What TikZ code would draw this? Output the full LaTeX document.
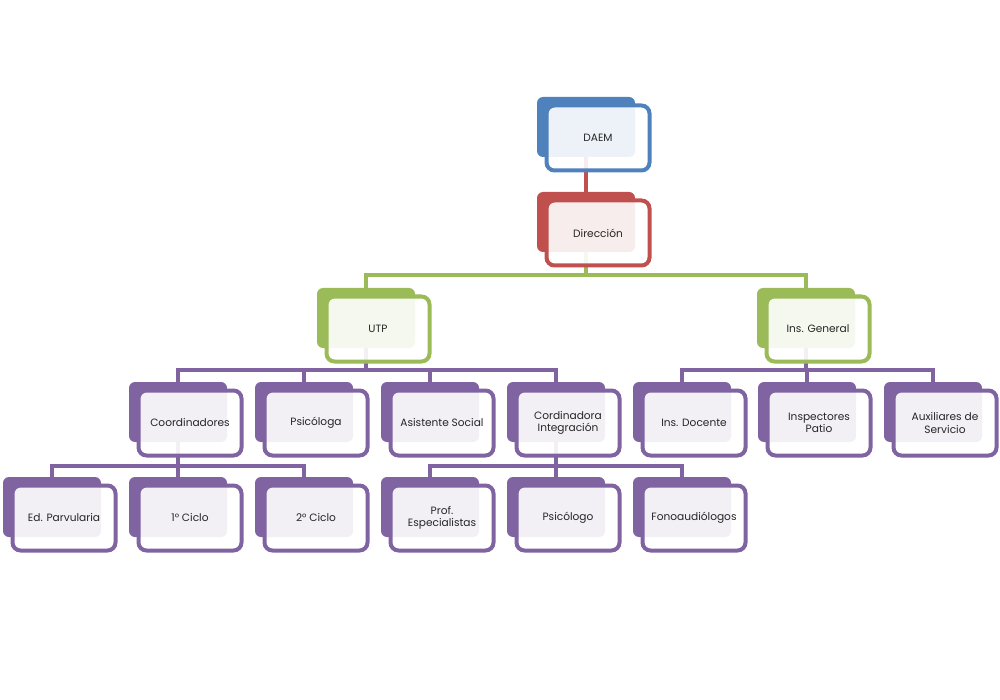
\documentclass[tikz,border=0pt]{standalone}
\usepackage{fontspec}
\setmainfont{Poppins}
\usepackage{tikz}
\usetikzlibrary{backgrounds}

\definecolor{daemblue}{HTML}{4F81BD}
\definecolor{dirred}{HTML}{C0504D}
\definecolor{mandogreen}{HTML}{9BBB59}
\definecolor{staffpurple}{HTML}{8064A2}

\begin{document}
\begin{tikzpicture}[x=1pt,y=-1pt]
		\tikzstyle{back}=[rectangle, rounded corners=6pt, minimum width=98pt, minimum height=60pt, inner sep=0pt]
		\tikzstyle{front}=[rectangle, rounded corners=8pt, line width=4pt, fill=white, fill opacity=0.9, text opacity=1, minimum width=103pt, minimum height=65pt, inner sep=1pt, align=center, text=black!85, font=\fontsize{10.6}{12.5}\selectfont]
		\tikzstyle{conn}=[line width=4.5pt]

		\useasboundingbox (0,0) rectangle (1000,700);

		% back shapes
		\node [back, fill=daemblue] (daem) at (586,127) {};
		\node [back, fill=dirred] (dir) at (586,222) {};
		\node [back, fill=mandogreen] (utp) at (366,318) {};
		\node [back, fill=mandogreen] (insg) at (806,318) {};
		\node [back, fill=staffpurple] (coord) at (178,412) {};
		\node [back, fill=staffpurple] (psica) at (304,412) {};
		\node [back, fill=staffpurple] (asist) at (430,412) {};
		\node [back, fill=staffpurple] (integ) at (556,412) {};
		\node [back, fill=staffpurple] (insdoc) at (682,412) {};
		\node [back, fill=staffpurple] (inspat) at (807,412) {};
		\node [back, fill=staffpurple] (aux) at (933,412) {};
		\node [back, fill=staffpurple] (parv) at (52,507) {};
		\node [back, fill=staffpurple] (ciclo1) at (178,507) {};
		\node [back, fill=staffpurple] (ciclo2) at (304,507) {};
		\node [back, fill=staffpurple] (prof) at (430,507) {};
		\node [back, fill=staffpurple] (psico) at (556,507) {};
		\node [back, fill=staffpurple] (fono) at (682,507) {};

		% links between the levels
		\coordinate (b1) at (586,275);
		\coordinate (b2) at (366,370);
		\coordinate (b3) at (806,370);
		\coordinate (b4) at (178,466);
		\coordinate (b5) at (556,466);

		\begin{pgfonlayer}{background}
		\draw [conn, dirred] (daem.south) -- (dir.north);
		\draw [conn, mandogreen] (dir.south) -- (b1) -| (utp.north);
		\draw [conn, mandogreen] (b1) -| (insg.north);
		\draw [conn, staffpurple] (utp.south) -- (b2) -| (coord.north);
		\draw [conn, staffpurple] (b2) -| (psica.north);
		\draw [conn, staffpurple] (b2) -| (asist.north);
		\draw [conn, staffpurple] (b2) -| (integ.north);
		\draw [conn, staffpurple] (insg.south) -- (b3) -| (insdoc.north);
		\draw [conn, staffpurple] (b3) -| (inspat.north);
		\draw [conn, staffpurple] (b3) -| (aux.north);
		\draw [conn, staffpurple] (coord.south) -- (b4) -| (parv.north);
		\draw [conn, staffpurple] (b4) -| (ciclo1.north);
		\draw [conn, staffpurple] (b4) -| (ciclo2.north);
		\draw [conn, staffpurple] (integ.south) -- (b5) -| (prof.north);
		\draw [conn, staffpurple] (b5) -| (psico.north);
		\draw [conn, staffpurple] (b5) -| (fono.north);
		\end{pgfonlayer}

		% front shapes with the texts
		\node [front, draw=daemblue] (daem t) at ([shift={(12,11)}]daem.center) {DAEM};
		\node [front, draw=dirred] (dir t) at ([shift={(12,11)}]dir.center) {Dirección};
		\node [front, draw=mandogreen] (utp t) at ([shift={(12,11)}]utp.center) {UTP};
		\node [front, draw=mandogreen] (insg t) at ([shift={(12,11)}]insg.center) {Ins. General};
		\node [front, draw=staffpurple] (coord t) at ([shift={(12,11)}]coord.center) {Coordinadores};
		\node [front, draw=staffpurple] (psica t) at ([shift={(12,11)}]psica.center) {Psicóloga};
		\node [front, draw=staffpurple] (asist t) at ([shift={(12,11)}]asist.center) {Asistente Social};
		\node [front, draw=staffpurple] (integ t) at ([shift={(12,11)}]integ.center) {Cordinadora\\Integración};
		\node [front, draw=staffpurple] (insdoc t) at ([shift={(12,11)}]insdoc.center) {Ins. Docente};
		\node [front, draw=staffpurple] (inspat t) at ([shift={(12,11)}]inspat.center) {Inspectores\\Patio};
		\node [front, draw=staffpurple] (aux t) at ([shift={(12,11)}]aux.center) {Auxiliares de\\Servicio};
		\node [front, draw=staffpurple] (parv t) at ([shift={(12,11)}]parv.center) {Ed. Parvularia};
		\node [front, draw=staffpurple] (ciclo1 t) at ([shift={(12,11)}]ciclo1.center) {1° Ciclo};
		\node [front, draw=staffpurple] (ciclo2 t) at ([shift={(12,11)}]ciclo2.center) {2° Ciclo};
		\node [front, draw=staffpurple] (prof t) at ([shift={(12,11)}]prof.center) {Prof.\\Especialistas};
		\node [front, draw=staffpurple] (psico t) at ([shift={(12,11)}]psico.center) {Psicólogo};
		\node [front, draw=staffpurple] (fono t) at ([shift={(12,11)}]fono.center) {Fonoaudiólogos};
	\end{tikzpicture}
\end{document}
